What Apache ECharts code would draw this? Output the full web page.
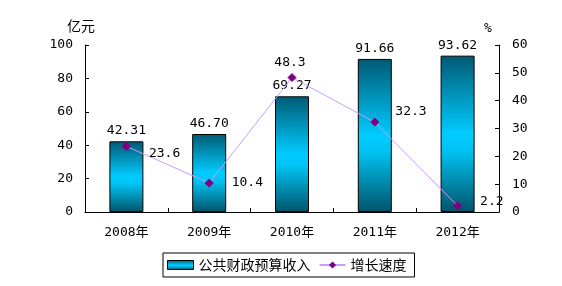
<!DOCTYPE html>
<html>
<head>
<meta charset="utf-8">
<script src="https://cdn.jsdelivr.net/npm/echarts@6/dist/echarts.min.js"></script>
<style>
html,body{margin:0;padding:0;background:#fff;}
#chart{width:562px;height:286px;}
</style>
</head>
<body>
<div id="chart"></div>
<script>
const categories = ['2008年', '2009年', '2010年', '2011年', '2012年'];
const revenue = [42.31, 46.70, 69.27, 91.66, 93.62];
const growth = [23.6, 10.4, 48.3, 32.3, 2.2];
const leftTicks = { min: 0, max: 100, interval: 20 };
const rightTicks = { min: 0, max: 60, interval: 10 };
const seriesNames = ['公共财政预算收入', '增长速度'];
const axisNames = ['亿元', '%'];

const FONT = "'DejaVu Sans Mono', 'Noto Sans CJK SC', monospace";
const CJK = "'Noto Sans CJK SC', 'DejaVu Sans', sans-serif";

// per-point label placement for the growth line (style only)
const lineLabelStyle = [
  { position: 'right', distance: 18, offset: [0, 7] },
  { position: 'right', distance: 18, offset: [0, 0] },
  { position: 'top', distance: 4, offset: [-2, 0] },
  { position: 'right', distance: 16, offset: [0, -10] },
  { position: 'right', distance: 18, offset: [0, -4] }
];

const barGradient = new echarts.graphic.LinearGradient(0, 0, 0, 1, [
  { offset: 0, color: '#005A74' },
  { offset: 0.5, color: '#00CCFF' },
  { offset: 0.6, color: '#00C4F4' },
  { offset: 1, color: '#00546A' }
]);

const chart = echarts.init(document.getElementById('chart'), null, { renderer: 'canvas' });

const axisCommon = {
  axisLine: { show: true, lineStyle: { color: '#000', width: 1 } },
  axisTick: { show: true, inside: true, length: 4, lineStyle: { color: '#000' } },
  splitLine: { show: false },
  axisLabel: { color: '#000', fontFamily: FONT, fontSize: 13 }
};

chart.setOption({
  animation: false,
  grid: { left: 85, right: 63, top: 45, bottom: 74, containLabel: false },
  legend: {
    left: 163,
    top: 253,
    width: 260,
    height: 22,
    padding: [5, 8, 5, 4],
    itemGap: 8,
    itemWidth: 26,
    itemHeight: 9,
    borderColor: '#000',
    borderWidth: 1,
    borderRadius: 0,
    textStyle: { color: '#000', fontFamily: CJK, fontSize: 14 },
    data: [
      { name: seriesNames[0], icon: 'rect', itemStyle: { color: barGradient, borderColor: '#000', borderWidth: 1 } },
      { name: seriesNames[1] }
    ]
  },
  xAxis: {
    type: 'category',
    data: categories,
    boundaryGap: true,
    axisLine: { show: true, onZero: false, lineStyle: { color: '#000', width: 1 } },
    axisTick: { show: true, inside: true, length: 4, interval: 0, lineStyle: { color: '#000' } },
    axisLabel: { color: '#000', fontFamily: FONT, fontSize: 13, margin: 14 },
    splitLine: { show: false }
  },
  yAxis: [
    Object.assign({}, axisCommon, {
      type: 'value',
      position: 'left',
      min: leftTicks.min, max: leftTicks.max, interval: leftTicks.interval,
      name: axisNames[0],
      nameGap: 12,
      nameTextStyle: { color: '#000', fontFamily: CJK, fontSize: 14, align: 'center', padding: [0, 8, 0, 0] },
      axisLabel: { color: '#000', fontFamily: FONT, fontSize: 13, margin: 12 }
    }),
    Object.assign({}, axisCommon, {
      type: 'value',
      position: 'right',
      min: rightTicks.min, max: rightTicks.max, interval: rightTicks.interval,
      name: axisNames[1],
      nameGap: 10,
      nameTextStyle: { color: '#000', fontFamily: FONT, fontSize: 13, align: 'center', padding: [0, 22, 0, 0] },
      axisLabel: { color: '#000', fontFamily: FONT, fontSize: 13, margin: 13 }
    })
  ],
  series: [
    {
      name: seriesNames[0],
      type: 'bar',
      yAxisIndex: 0,
      barWidth: 34,
      data: revenue,
      itemStyle: { color: barGradient, borderColor: '#000', borderWidth: 1 },
      label: {
        show: true,
        position: 'top',
        distance: 4,
        color: '#000',
        fontFamily: FONT,
        fontSize: 13,
        formatter: p => Number(p.value).toFixed(2)
      },
      z: 2
    },
    {
      name: seriesNames[1],
      type: 'line',
      yAxisIndex: 1,
      data: growth.map((v, i) => ({ value: v, label: lineLabelStyle[i] })),
      symbol: 'diamond',
      symbolSize: 8,
      lineStyle: { color: '#C89CFF', width: 1 },
      itemStyle: { color: '#800080', borderColor: '#800080' },
      label: {
        show: true,
        color: '#000',
        fontFamily: FONT,
        fontSize: 13,
        formatter: p => String(p.value)
      },
      z: 3
    }
  ]
});
</script>
</body>
</html>
